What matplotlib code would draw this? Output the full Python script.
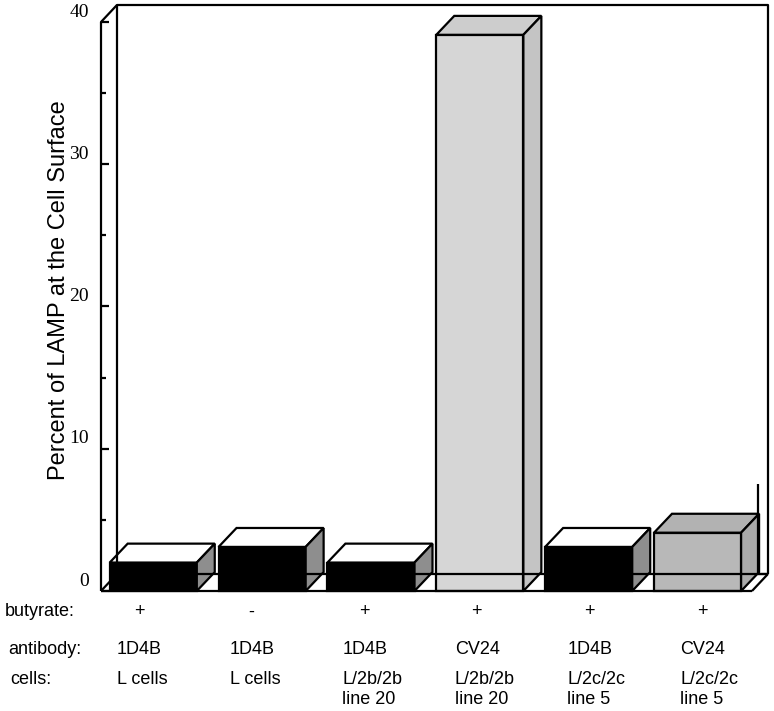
import matplotlib
matplotlib.use("Agg")
import matplotlib.pyplot as plt
from matplotlib.patches import Polygon

# data
values = [2.0, 3.1, 2.0, 39.1, 3.1, 4.1]
butyrate = ["+", "-", "+", "+", "+", "+"]
antibody = ["1D4B", "1D4B", "1D4B", "CV24", "1D4B", "CV24"]
cells = [["L cells"], ["L cells"], ["L/2b/2b", "line 20"], ["L/2b/2b", "line 20"],
         ["L/2c/2c", "line 5"], ["L/2c/2c", "line 5"]]
yticks = [0, 10, 20, 30, 40]
yminor = [5, 15, 25, 35]

# face colours (front, top, side)
front_col = ["black", "black", "black", "#d6d6d6", "black", "#b8b8b8"]
top_col = ["white", "white", "white", "#cdcdcd", "white", "#b2b2b2"]
side_col = ["#8e8e8e", "#8e8e8e", "#8e8e8e", "#c4c4c4", "#8e8e8e", "#aaaaaa"]

W, H = 774, 711
fig = plt.figure(figsize=(W / 100, H / 100), dpi=100)
ax = fig.add_axes([101 / W, (H - 591) / H, (752 - 101) / W, (591 - 22) / H])
x0, x1 = -0.48, 5.5
ax.set_xlim(x0, x1)
ax.set_ylim(0, 40)
ax.axis("off")

lw = 1.6
dx, dy = 0.147, 1.2      # floor / wall depth
bdx, bdy = 0.165, 1.33   # bar depth
bw = 0.8

def line(xs, ys, **kw):
    ax.plot(xs, ys, color="black", lw=lw, clip_on=False, solid_capstyle="butt", **kw)

# back wall and floor
line([x0 + dx, x0 + dx, x1 + dx, x1 + dx], [dy, 40 + dy, 40 + dy, dy])
line([x0 + dx, x1 + dx], [dy, dy])
line([x1 + dx - 0.09, x1 + dx - 0.09], [dy, 7.5])
line([x1 + dx - 0.09, x1 + dx], [dy, dy])
line([x0, x1], [0, 0])
line([x0, x0 + dx], [0, dy])
line([x1, x1 + dx], [0, dy])
# front axis
line([x0, x0, x0 + dx], [0, 40, 40 + dy])
for t in yticks:
    line([x0, x0 + 0.075], [t, t])
    ax.text(x0 - 0.11, t + 0.7, str(t), ha="right", va="center",
            fontsize=14, family="Liberation Serif")
for t in yminor:
    line([x0, x0 + 0.05], [t, t])

# bars
for i, v in enumerate(values):
    l, r = i - bw / 2, i + bw / 2
    kw = dict(closed=True, ec="black", lw=lw, joinstyle="miter", clip_on=False)
    ax.add_patch(Polygon([(l, 0), (r, 0), (r, v), (l, v)], fc=front_col[i], **kw))
    ax.add_patch(Polygon([(l, v), (r, v), (r + bdx, v + bdy), (l + bdx, v + bdy)],
                         fc=top_col[i], **kw))
    ax.add_patch(Polygon([(r, 0), (r + bdx, bdy), (r + bdx, v + bdy), (r, v)],
                         fc=side_col[i], **kw))

# y label
fig.text(59 / W, 1 - 290 / H, "Percent of LAMP at the Cell Surface", rotation=90,
         ha="center", va="center", fontsize=17, family="Liberation Sans")

# table under the chart
sans = dict(fontsize=13, family="Liberation Sans", va="center")
fig.text(5 / W, 1 - 612 / H, "butyrate:", ha="left", **sans)
fig.text(8 / W, 1 - 650 / H, "antibody:", ha="left", **sans)
fig.text(10 / W, 1 - 680 / H, "cells:", ha="left", **sans)
for i in range(len(values)):
    left = 117 + i * 112.6
    fig.text((left + 22) / W, 1 - 612 / H, butyrate[i], ha="center", **sans)
    fig.text(left / W, 1 - 650 / H, antibody[i], ha="left", **sans)
    for k, s in enumerate(cells[i]):
        fig.text(left / W, 1 - (680 + 20 * k) / H, s, ha="left", **sans)

fig.savefig("out.png", dpi=100)
